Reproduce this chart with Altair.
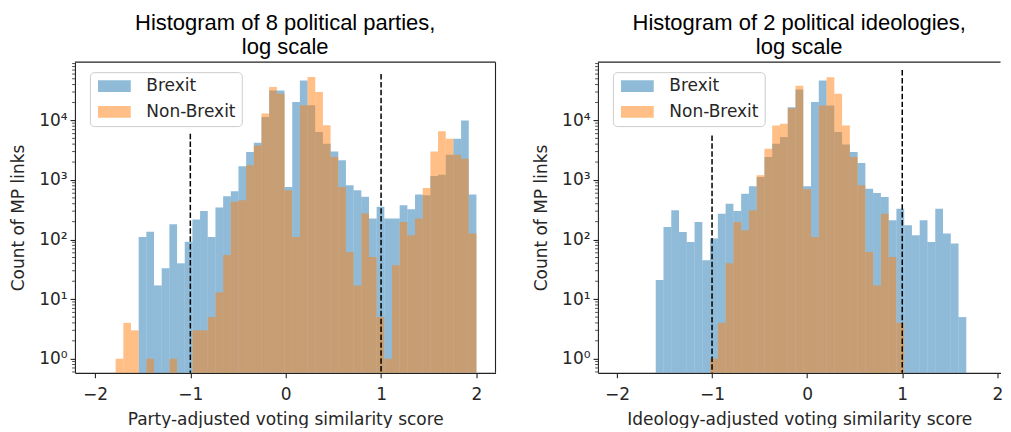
import altair as alt
import numpy as np
import pandas as pd

# ---------------- data ----------------
# Left panel: party-adjusted scores, 47 shared bins
left_edges = np.linspace(-1.783, 2.0, 48)
left_brexit = [0, 0, 0, 111, 135, 17, 33, 181, 40, 92,
               217, 303, 111, 344, 533, 646, 1700, 2960, 4200, 11400,
               31800, 31800, 766, 20400, 46900, 17900, 6400, 4070, 3020, 2140,
               815, 672, 521, 225, 354, 225, 225, 377, 323, 569,
               554, 1170, 1230, 2660, 4940, 10000, 569]
left_nonbrexit = [1, 4, 3, 0, 1, 0, 0, 1, 0, 0,
                  3, 3, 5, 13, 55, 430, 457, 1760, 3800, 13000,
                  36300, 28000, 672, 111, 17900, 53400, 29900, 8260, 2440, 766,
                  62, 17, 273, 51, 5, 1, 37, 198, 118, 225,
                  736, 3020, 6550, 4940, 2660, 2280, 126]

# Right panel: ideology-adjusted scores, 49 shared bins on [-2, 2]
right_edges = np.linspace(-2.0, 2.0, 50)
right_brexit = [0, 0, 0, 0, 0, 21, 163, 310, 134, 91,
                198, 45, 104, 272, 401, 302, 589, 784, 1120, 2430,
                4060, 5250, 16700, 33000, 784, 20300, 46800, 17800, 6370, 3960,
                2940, 1930, 714, 605, 519, 211, 330, 174, 118, 211,
                91, 330, 126, 86, 5, 0, 0, 0, 0]
right_nonbrexit = [0, 0, 0, 0, 0, 0, 0, 0, 0, 0,
                   0, 0, 1, 4, 40, 198, 144, 310, 1200, 3350,
                   8240, 8790, 16000, 38000, 700, 111, 17800, 53200, 28000, 8240,
                   2430, 815, 62, 17, 272, 51, 4, 0, 0, 0,
                   0, 0, 0, 0, 0, 0, 0, 0, 0]

series_names = ["Brexit", "Non-Brexit"]
series_colors = ["#1f77b4", "#ff7f0e"]

x_ticks = [-2, -1, 0, 1, 2]
y_ticks = [1, 10, 100, 1000, 10000]
y_minor = [m * 10 ** e for e in range(-1, 5) for m in range(2, 10)]
y_minor = [v for v in y_minor if 0.58 <= v <= 95000]

left_vlines_x = [-1, 1]
left_vlines_top = [6000, 60000]
right_vlines_x = [-1, 1]
right_vlines_top = [5600, 70000]

left_title = ["Histogram of 8 political parties,", "log scale"]
right_title = ["Histogram of 2 political ideologies,", "log scale"]
left_xtitle = "Party-adjusted voting similarity score"
right_xtitle = "Ideology-adjusted voting similarity score"
y_title = "Count of MP links"

# ---------------- helpers ----------------
def hist_df(edges, b, nb):
    rows = []
    for name, counts in zip(series_names, (b, nb)):
        for i, c in enumerate(counts):
            if c > 0:
                rows.append({"series": name, "lo": float(edges[i]),
                             "hi": float(edges[i + 1]), "count": c})
    return pd.DataFrame(rows)


INK = "#262626"
LBL = ("datum.value == 1 ? '10⁰' : datum.value == 10 ? '10¹' : "
       "datum.value == 100 ? '10²' : datum.value == 1000 ? '10³' : '10⁴'")


def panel(df, title, xtitle, xdomain, W, H, vx, vtop, right_border):
    xs = alt.Scale(domain=xdomain, nice=False, zero=False)
    ys = alt.Scale(type="log", domain=[0.58, 95000], nice=False)
    xax = alt.Axis(values=x_ticks, title=xtitle,
                   labelExpr="replace(datum.label, '-', '−')",
                   labelPadding=9, titlePadding=9)
    yax = alt.Axis(values=y_ticks, title=y_title, labelExpr=LBL,
                   labelPadding=3, titlePadding=11)
    bars = alt.Chart(df).mark_rect(opacity=0.5, strokeWidth=0).encode(
        x=alt.X("lo:Q", scale=xs, axis=xax),
        x2="hi:Q",
        y=alt.Y("count:Q", scale=ys, axis=yax),
        y2=alt.value(H),
        color=alt.Color("series:N",
                        scale=alt.Scale(domain=series_names, range=series_colors),
                        legend=alt.Legend(
                            title=None, orient="none", legendX=15, legendY=10,
                            symbolType="M-2.8,-1L2.8,-1L2.8,1L-2.8,1Z",
                            symbolSize=137, symbolOpacity=0.5,
                            symbolStrokeWidth=0, symbolOffset=10.5,
                            labelFontSize=17,
                            labelFont="DejaVu Sans", labelColor=INK,
                            fillColor="white", strokeColor="#cccccc",
                            cornerRadius=4, padding=5.5, rowPadding=7.7,
                            labelOffset=23.5)),
    )
    minor = alt.Chart(pd.DataFrame({"v": y_minor})).mark_rule(
        color="#222", strokeWidth=0.8).encode(
        y=alt.Y("v:Q", scale=ys, axis=yax),
        x=alt.value(0), x2=alt.value(-2.8))
    vdf = pd.DataFrame({"x": vx, "top": vtop})
    vlines = alt.Chart(vdf).mark_rule(
        color="black", strokeWidth=1.5, strokeDash=[5.5, 2.4]).encode(
        x=alt.X("x:Q", scale=xs, axis=xax),
        y=alt.Y("top:Q", scale=ys, axis=yax),
        y2=alt.value(H))
    frame_df = pd.DataFrame({"a": [0]})
    top = alt.Chart(frame_df).mark_rule(color="#222", strokeWidth=1.1).encode(
        x=alt.value(0), x2=alt.value(W), y=alt.value(0))
    layers = [bars, minor, vlines, top]
    if right_border:
        rb = alt.Chart(frame_df).mark_rule(color="#222", strokeWidth=1.1).encode(
            x=alt.value(W), y=alt.value(0), y2=alt.value(H))
        layers.append(rb)
    return alt.layer(*layers).properties(
        width=W, height=H,
        title=alt.TitleParams(title, fontSize=22, font="Liberation Sans",
                              fontWeight="normal", color="black",
                              anchor="middle", offset=3, lineHeight=24))


left = panel(hist_df(left_edges, left_brexit, left_nonbrexit), left_title,
             left_xtitle, [-2.21, 2.2], 421, 311, left_vlines_x,
             left_vlines_top, True)
right = panel(hist_df(right_edges, right_brexit, right_nonbrexit), right_title,
              right_xtitle, [-2.2, 2.033], 403, 311, right_vlines_x,
              right_vlines_top, False)

chart = alt.hconcat(left, right, spacing=35.5).resolve_scale(
    color="independent").properties(
    padding={"left": 1, "top": 3, "right": 0, "bottom": 0}
).configure_view(stroke=None).configure_axis(
    domainColor="#222", tickColor="#222", labelColor=INK, titleColor=INK,
    labelFont="DejaVu Sans", titleFont="DejaVu Sans", labelFontSize=17,
    titleFontSize=17, titleFontWeight="normal", grid=False, tickSize=4.9,
    tickWidth=1.1, domainWidth=1.1)

chart.save("out.html", embed_options={"renderer": "svg", "actions": False})
